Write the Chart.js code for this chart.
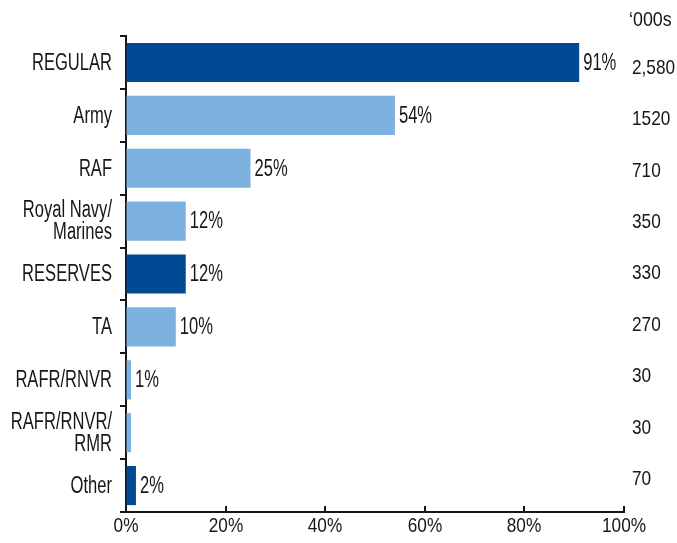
<!DOCTYPE html>
<html>
<head>
<meta charset="utf-8">
<script src="https://cdn.jsdelivr.net/npm/chart.js@4.4.0/dist/chart.umd.min.js"></script>
<style>
  body { margin: 0; background: #fff; }
  #wrap { width: 677px; height: 543px; }
</style>
</head>
<body>
<div id="wrap"><canvas id="chart1"></canvas></div>
<script>
var categorias = ['REGULAR', 'Army', 'RAF', ['Royal Navy/', 'Marines'], 'RESERVES', 'TA', 'RAFR/RNVR', ['RAFR/RNVR/', 'RMR'], 'Other'];
var porcentajes = [91, 54, 25, 12, 12, 10, 1, 1, 2];
var etiquetas = ['91%', '54%', '25%', '12%', '12%', '10%', '1%', '', '2%'];
var miles = ['2,580', '1520', '710', '350', '330', '270', '30', '30', '70'];
var tipo = ['total', 'sub', 'sub', 'sub', 'total', 'sub', 'sub', 'sub', 'total'];
var ejeX = [0, 20, 40, 60, 80, 100];

var OSCURO = '#004a94';
var CLARO = '#7db2e0';
var FUENTE = "'Liberation Sans', Arial, sans-serif";
var TINTA = '#161616';

var colores = tipo.map(function (t) { return t == 'total' ? OSCURO : CLARO; });

// texto estrecho (la fuente original es condensada)
function texto(ctx, s, x, y, alin, tam, sx) {
    ctx.save();
    ctx.translate(x, y);
    ctx.scale(sx, 1);
    ctx.font = tam + 'px ' + FUENTE;
    ctx.textAlign = alin;
    ctx.textBaseline = 'middle';
    ctx.fillStyle = TINTA;
    ctx.fillText(s, 0, 0);
    ctx.restore();
}

var extras = {
    id: 'extras',
    afterDatasetsDraw: function (chart) {
        var ctx = chart.ctx;
        var meta = chart.getDatasetMeta(0);
        var xs = chart.scales.x;
        var ys = chart.scales.y;
        var area = chart.chartArea;

        // nombres de categoria
        categorias.forEach(function (c, i) {
            var cy = ys.getPixelForValue(i);
            if (Array.isArray(c)) {
                texto(ctx, c[0], 112, cy - 10, 'right', 23, 0.72);
                texto(ctx, c[1], 112, cy + 12, 'right', 23, 0.72);
            } else {
                texto(ctx, c, 112, cy + 1, 'right', 23, 0.72);
            }
        });

        // porcentajes y columna de miles
        meta.data.forEach(function (bar, i) {
            if (etiquetas[i]) texto(ctx, etiquetas[i], bar.x + 4, bar.y + 1, 'left', 23, 0.72);
            texto(ctx, miles[i], 632, bar.y + 5.5 - i * 1.45, 'left', 21, 0.82);
        });
        texto(ctx, '\u2018000s', 629, 20, 'left', 21, 0.85);

        // eje x: marcas hacia dentro y etiquetas
        ctx.save();
        ctx.strokeStyle = TINTA;
        ctx.lineWidth = 2;
        ejeX.forEach(function (v) {
            var px = Math.round(xs.getPixelForValue(v));
            ctx.beginPath();
            ctx.moveTo(px, area.bottom);
            ctx.lineTo(px, area.bottom - 6);
            ctx.stroke();
            texto(ctx, v + '%', px, 526, 'center', 21, 0.82);
        });
        ctx.restore();
    }
};

var config = {
    type: 'bar',
    data: {
        labels: categorias,
        datasets: [{
            data: porcentajes,
            backgroundColor: colores,
            borderWidth: 0,
            categoryPercentage: 0.74,
            barPercentage: 1
        }]
    },
    options: {
        indexAxis: 'y',
        responsive: true,
        maintainAspectRatio: false,
        animation: false,
        layout: { padding: { top: 36, right: 53, left: 0, bottom: 0 } },
        plugins: { legend: { display: false }, tooltip: { enabled: false } },
        scales: {
            x: {
                min: 0,
                max: 100,
                afterFit: function (s) { s.height = 31; },
                grid: { display: true, drawOnChartArea: false, drawTicks: false },
                border: { color: TINTA, width: 2 },
                ticks: { display: false, stepSize: 20 }
            },
            y: {
                afterFit: function (s) { s.width = 126; },
                grid: { drawOnChartArea: false, drawTicks: true, tickLength: 6, color: TINTA, lineWidth: 2 },
                border: { color: TINTA, width: 2 },
                ticks: { display: false }
            }
        }
    },
    plugins: [extras]
};

var canvas = document.getElementById('chart1').getContext('2d');
window.grafico = new Chart(canvas, config);
</script>
</body>
</html>
